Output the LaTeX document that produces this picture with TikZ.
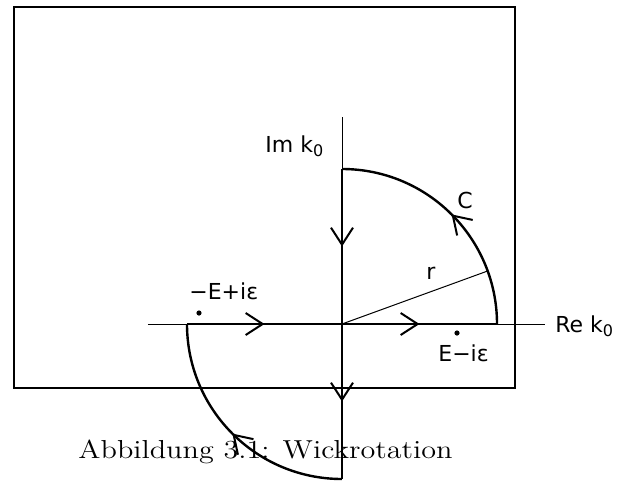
\documentclass[tikz,border=0pt]{standalone}
\usepackage{fontspec}
\usepackage{graphicx}
\usepackage{tikz}
\usetikzlibrary{arrows.meta, decorations.markings}
\newfontfamily\labelfont{DejaVu Sans}

\begin{document}
\begin{tikzpicture}[
    x=0.5pt, y=0.5pt,
    lbl/.style={font=\labelfont\fontsize{11}{13}\selectfont, inner sep=0pt},
    axis/.style={line width=0.5pt},
    path/.style={line width=1.2pt, postaction={decorate},
                 decoration={markings, mark=at position 0.5 with
                   {\arrow{Straight Barb[length=8.5pt, width=11pt, line width=1pt]}}}},
    dot/.style={circle, fill=black, inner sep=0pt, minimum size=2.6pt}
  ]
    \useasboundingbox (-342,-159) rectangle (294,324);
    % frame
    \draw[line width=1pt] (-328,-64) rectangle (173,317);

    % points
    \coordinate (O)     at (0,0);
    \coordinate (top)   at (0,155);
    \coordinate (bot)   at (0,-155);
    \coordinate (left)  at (-155,0);
    \coordinate (right) at (155,0);
    \coordinate (xmin)  at (-194,0);
    \coordinate (xmax)  at (203,0);
    \coordinate (ymax)  at (0,207);
    \coordinate (rend)  at (20:155);

    % axes
    \draw[axis] (xmin) -- (xmax);
    \draw[axis] (ymax) -- (top);

    % contour
    \draw[path] (top) -- (O);
    \draw[path] (O) -- (bot);
    \draw[path] (bot) arc[start angle=270, end angle=180, radius=155];
    \draw[path] (left) -- (O);
    \draw[path] (O) -- (right);
    \draw[path] (right) arc[start angle=0, end angle=90, radius=155];

    % radius
    \draw[axis] (O) -- (rend);

    % poles
    \node[dot] (pm) at (-143,11) {};
    \node[dot] (pp) at (115,-9) {};

    % labels
    \node[lbl, anchor=base west] (im) at (-77,172)
      {Im k\raisebox{-0.4ex}{\fontsize{8}{9}\selectfont 0}};
    \node[lbl, anchor=base west] (re) at (213,-8)
      {Re k\raisebox{-0.4ex}{\fontsize{8}{9}\selectfont 0}};
    \node[lbl, anchor=base west] (lm) at (-153,25) {−E+iε};
    \node[lbl, anchor=base west] (lp) at (96,-37) {E−iε};
    \node[lbl] (lr) at (89,51)   {r};
    \node[lbl] (lc) at (123,124) {C};

    % caption
    \node[inner sep=0pt, anchor=base east] (cap) at (111,-134)
      {\scalebox{1.16}[1]{\fontsize{13}{15}\selectfont Abbildung 3.1: Wickrotation}};
  \end{tikzpicture}
\end{document}
